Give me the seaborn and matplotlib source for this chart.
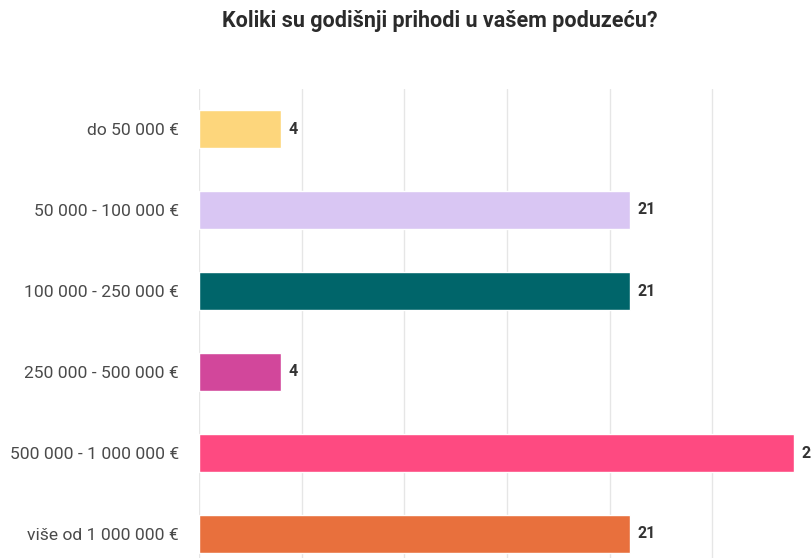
import matplotlib
matplotlib.use("Agg")
from matplotlib import pyplot as plt
import seaborn as sns
import pandas as pd

sns.set_style("white")
plt.rcParams['font.family'] = ['Roboto', 'DejaVu Sans']

categories = ["do 50 000 €", "50 000 - 100 000 €", "100 000 - 250 000 €",
              "250 000 - 500 000 €", "500 000 - 1 000 000 €", "više od 1 000 000 €"]
values = [4, 21, 21, 4, 29, 21]
colors = ["#FDD67C", "#D9C6F3", "#00656A", "#D2479B", "#FE4A81", "#E8703D"]
title = "Koliki su godišnji prihodi u vašem poduzeću?"

df = pd.DataFrame({"kategorija": categories, "broj": values})

fig = plt.figure(figsize=(8.11, 5.58), dpi=100)
# the reference is a crop, so the axes run past the right and bottom edges
ax = fig.add_axes([199 / 811, -16.5 / 558, 616 / 811, 486 / 558])

sns.barplot(data=df, x="broj", y="kategorija", hue="kategorija",
            palette=colors, legend=False, width=0.47, saturation=1, ax=ax)

ax.set_xlim(0, 30)
ax.set_ylim(5.5, -0.5)
ax.set_xticks(range(0, 31, 5))
ax.grid(axis="x", color="#E6E6E6", linewidth=1)
ax.set_axisbelow(True)
ax.tick_params(axis="x", bottom=False, labelbottom=False)
ax.tick_params(axis="y", left=False, pad=11, labelsize=12.6, labelcolor="#4A4A4A")
ax.set_xlabel("")
ax.set_ylabel("")
for s in ax.spines.values():
    s.set_visible(False)

# value labels
for i, v in enumerate(values):
    ax.text(v + 0.35, i, str(v), va="center", ha="left",
            fontsize=11.5, fontweight="bold", color="#333333")

fig.text(440 / 811, 1 - 21 / 558, title, ha="center", va="center",
         fontsize=15.5, fontweight="bold", color="#2B2B2B")

fig.savefig("out.png", dpi=100)
